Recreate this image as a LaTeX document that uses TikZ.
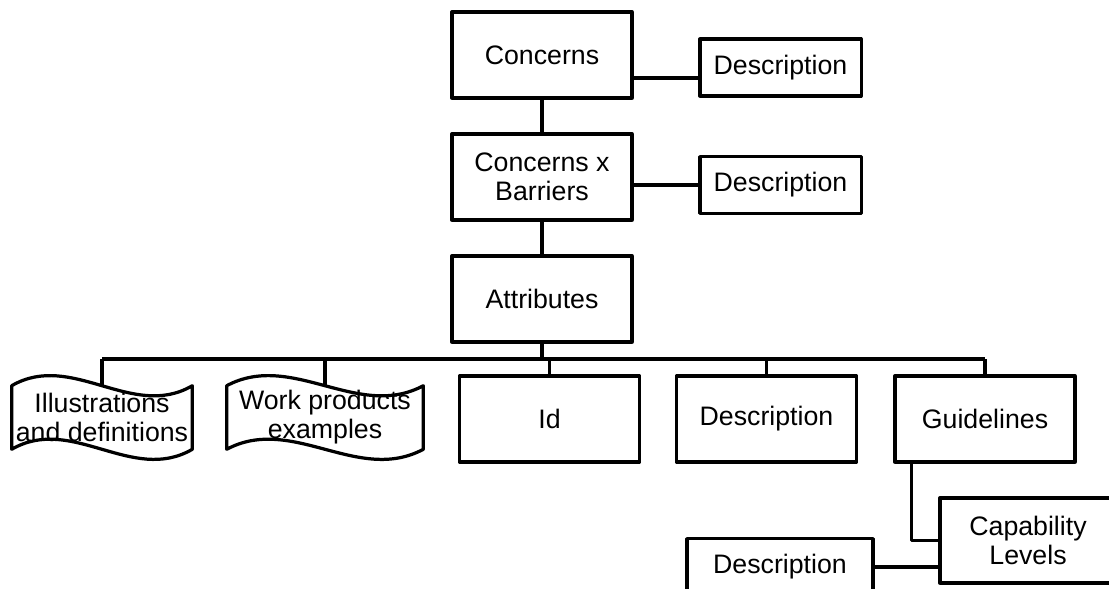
\documentclass[tikz,border=0pt]{standalone}
\usepackage{fontspec}
\setmainfont{Liberation Sans}
\usetikzlibrary{calc}
\begin{document}
\begin{tikzpicture}[x=0.025cm,y=-0.025cm,line join=round,font=\fontsize{19}{20.6}\selectfont,
box/.style={draw,line width=2.3pt,align=center,inner sep=2pt,minimum width=4.5cm,minimum height=2.15cm},
descbox/.style={box,minimum width=4.03cm,minimum height=1.42cm},
wave/.style={align=center,inner sep=0pt,minimum height=1.575cm},
waveline/.style={line width=2.3pt},
link/.style={line width=2.4pt}]

\clip (0,0) rectangle (1109,588);

\node[box] (conc) at (542,55) {Concerns};
\node[descbox] (descA) at (780.5,67.5) {Description};
\node[box] (cxb) at (542,177) {Concerns x\\Barriers};
\node[descbox] (descB) at (780.5,185) {Description};
\node[box] (attr) at (542,299) {Attributes};

\node[wave,minimum width=4.5cm] (illu) at (102,417.5) {Illustrations\\and definitions};
\node[wave,minimum width=4.9cm] (work) at (325,417.5) {Work products\\examples};
\node[box] (id) at (549.5,419) {Id};
\node[box] (descC) at (766.5,419) {Description};
\node[box] (guide) at (985,419) {Guidelines};

\node[box,minimum width=4.4cm,minimum height=2.125cm] (cap) at (1028,540.5) {Capability\\Levels};
\node[descbox,minimum width=4.65cm] (descD) at (780,567) {Description};

\foreach \n in {illu,work}
\draw[waveline]
(\n.north west)
.. controls ($(\n.north west)!1/3!(\n.north east)+(0,-35)$) and ($(\n.north west)!2/3!(\n.north east)+(0,35)$) .. (\n.north east)
-- (\n.south east)
.. controls ($(\n.south west)!2/3!(\n.south east)+(0,35)$) and ($(\n.south west)!1/3!(\n.south east)+(0,-35)$) .. (\n.south west)
-- cycle;

\coordinate (bus) at (542,359);

\draw[link]
(conc.south)--(cxb.north)
(cxb.south)--(attr.north)
([yshift=-0.26cm]descA.west)--([yshift=-0.26cm]descA.west -| conc.east)
(descB.west)--(descB.west -| cxb.east)
(attr.south)--(bus)
(bus -| illu.north)--(bus -| guide.north)
([xshift=0.45cm]guide.south west) |- (cap.west)
(descD.east)--(descD.east -| cap.west);

\foreach \n in {illu,work,id,descC,guide}
\draw[link] (bus -| \n.north)--(\n.north);

\end{tikzpicture}
\end{document}
